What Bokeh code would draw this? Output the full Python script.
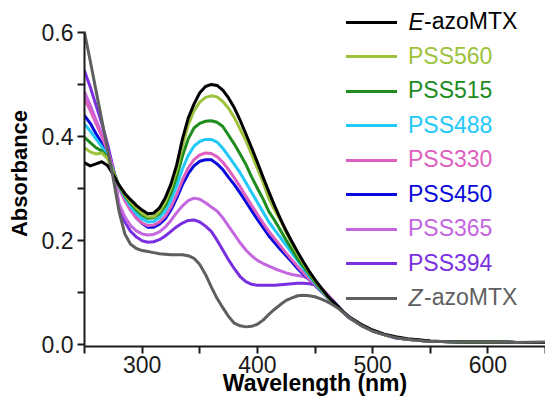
from bokeh.plotting import figure
from bokeh.models import FixedTicker, Legend, LegendItem, Label, PrintfTickFormatter
from bokeh.embed import file_html
from bokeh.resources import INLINE

# ---------------- data ----------------
wavelength = [250, 255, 260, 265, 270, 275, 280, 285, 290, 295, 300, 305, 310, 315, 320,
              325, 330, 335, 340, 345, 350, 355, 360, 365, 370, 375, 380, 385, 390, 395,
              400, 405, 410, 415, 420, 425, 430, 435, 440, 445, 450, 455, 460, 465, 470,
              475, 480, 490, 500, 510, 520, 530, 540, 550, 560, 580, 600, 625, 650]

e_azomtx = [0.349, 0.343, 0.347, 0.351, 0.344, 0.326, 0.306, 0.290, 0.278, 0.267, 0.258, 0.251, 0.252, 0.262, 0.281,
            0.308, 0.345, 0.395, 0.435, 0.462, 0.484, 0.496, 0.500, 0.498, 0.489, 0.474, 0.455, 0.431, 0.405, 0.378,
            0.350, 0.321, 0.293, 0.266, 0.241, 0.218, 0.197, 0.177, 0.158, 0.140, 0.124, 0.109, 0.095, 0.083, 0.072,
            0.061, 0.052, 0.038, 0.027, 0.019, 0.014, 0.010, 0.008, 0.006, 0.005, 0.004, 0.004, 0.003, 0.003]

pss560 = [0.378, 0.370, 0.366, 0.368, 0.357, 0.330, 0.305, 0.288, 0.274, 0.262, 0.252, 0.245, 0.245, 0.255, 0.273,
          0.300, 0.335, 0.381, 0.422, 0.449, 0.466, 0.475, 0.478, 0.476, 0.467, 0.454, 0.436, 0.414, 0.392, 0.365,
          0.338, 0.311, 0.280, 0.258, 0.238, 0.214, 0.193, 0.173, 0.155, 0.138, 0.122, 0.108, 0.094, 0.082, 0.071,
          0.060, 0.051, 0.036, 0.026, 0.018, 0.013, 0.009, 0.007, 0.005, 0.005, 0.004, 0.004, 0.003, 0.003]

pss515 = [0.398, 0.388, 0.378, 0.372, 0.360, 0.332, 0.304, 0.286, 0.271, 0.258, 0.248, 0.242, 0.243, 0.251, 0.266,
          0.290, 0.322, 0.362, 0.395, 0.416, 0.425, 0.429, 0.430, 0.427, 0.419, 0.402, 0.385, 0.366, 0.346, 0.322,
          0.300, 0.279, 0.255, 0.238, 0.219, 0.200, 0.182, 0.164, 0.149, 0.134, 0.119, 0.106, 0.093, 0.082, 0.071,
          0.060, 0.051, 0.036, 0.026, 0.018, 0.013, 0.009, 0.007, 0.005, 0.005, 0.004, 0.004, 0.003, 0.003]

pss488 = [0.424, 0.410, 0.395, 0.380, 0.362, 0.333, 0.303, 0.283, 0.265, 0.251, 0.241, 0.235, 0.236, 0.243, 0.256,
          0.277, 0.305, 0.337, 0.363, 0.381, 0.390, 0.394, 0.394, 0.389, 0.377, 0.362, 0.346, 0.330, 0.311, 0.292,
          0.273, 0.254, 0.235, 0.220, 0.205, 0.190, 0.175, 0.160, 0.145, 0.131, 0.117, 0.104, 0.092, 0.081, 0.071,
          0.060, 0.051, 0.036, 0.026, 0.018, 0.013, 0.009, 0.007, 0.005, 0.005, 0.004, 0.004, 0.003, 0.003]

pss330 = [0.472, 0.450, 0.425, 0.400, 0.372, 0.336, 0.300, 0.276, 0.257, 0.243, 0.233, 0.228, 0.229, 0.235, 0.246,
          0.264, 0.288, 0.316, 0.339, 0.355, 0.364, 0.368, 0.367, 0.361, 0.350, 0.336, 0.320, 0.303, 0.285, 0.267,
          0.250, 0.233, 0.217, 0.203, 0.189, 0.175, 0.162, 0.149, 0.137, 0.125, 0.114, 0.103, 0.091, 0.081, 0.071,
          0.060, 0.050, 0.036, 0.025, 0.018, 0.012, 0.009, 0.007, 0.005, 0.005, 0.004, 0.004, 0.003, 0.003]

pss450 = [0.440, 0.425, 0.405, 0.387, 0.366, 0.335, 0.302, 0.279, 0.259, 0.243, 0.232, 0.225, 0.225, 0.231, 0.241,
          0.258, 0.281, 0.307, 0.328, 0.343, 0.352, 0.355, 0.355, 0.347, 0.336, 0.321, 0.307, 0.291, 0.274, 0.257,
          0.240, 0.224, 0.208, 0.195, 0.182, 0.170, 0.158, 0.145, 0.134, 0.124, 0.113, 0.102, 0.091, 0.080, 0.071,
          0.060, 0.050, 0.036, 0.025, 0.018, 0.012, 0.009, 0.007, 0.005, 0.005, 0.004, 0.004, 0.003, 0.003]

pss365 = [0.485, 0.460, 0.432, 0.405, 0.372, 0.335, 0.270, 0.245, 0.228, 0.218, 0.212, 0.210, 0.211, 0.216, 0.225,
          0.238, 0.253, 0.266, 0.276, 0.281, 0.279, 0.272, 0.264, 0.256, 0.243, 0.227, 0.211, 0.195, 0.181, 0.170,
          0.161, 0.155, 0.150, 0.145, 0.141, 0.137, 0.134, 0.132, 0.130, 0.126, 0.120, 0.110, 0.097, 0.084, 0.072,
          0.060, 0.050, 0.036, 0.025, 0.018, 0.012, 0.009, 0.007, 0.005, 0.005, 0.004, 0.004, 0.003, 0.003]

pss394 = [0.526, 0.495, 0.460, 0.425, 0.385, 0.338, 0.262, 0.235, 0.217, 0.206, 0.199, 0.196, 0.197, 0.201, 0.208,
          0.217, 0.226, 0.233, 0.238, 0.239, 0.235, 0.227, 0.217, 0.200, 0.181, 0.162, 0.145, 0.130, 0.120, 0.115,
          0.113, 0.113, 0.113, 0.113, 0.114, 0.115, 0.116, 0.117, 0.117, 0.116, 0.114, 0.107, 0.097, 0.085, 0.073,
          0.061, 0.050, 0.036, 0.025, 0.018, 0.012, 0.009, 0.007, 0.005, 0.005, 0.004, 0.004, 0.003, 0.003]

z_azomtx = [0.600, 0.545, 0.488, 0.432, 0.375, 0.318, 0.255, 0.212, 0.192, 0.184, 0.180, 0.178, 0.176, 0.174, 0.173,
            0.172, 0.172, 0.172, 0.170, 0.165, 0.153, 0.134, 0.110, 0.088, 0.070, 0.053, 0.040, 0.035, 0.033, 0.034,
            0.038, 0.046, 0.057, 0.067, 0.076, 0.084, 0.089, 0.093, 0.094, 0.093, 0.091, 0.087, 0.082, 0.076, 0.069,
            0.060, 0.051, 0.036, 0.025, 0.018, 0.012, 0.009, 0.007, 0.005, 0.005, 0.004, 0.004, 0.003, 0.004]

series_names = ["E-azoMTX", "PSS560", "PSS515", "PSS488", "PSS330", "PSS450", "PSS365", "PSS394", "Z-azoMTX"]
series_values = [e_azomtx, pss560, pss515, pss488, pss330, pss450, pss365, pss394, z_azomtx]
series_colors = ["#000000", "#9DC23B", "#1E8C1E", "#22C8F8", "#DE5FC0", "#0A0ADC", "#C466E0", "#7A2FE0", "#5F5F5F"]

x_major = [300, 400, 500, 600]
x_minor = [250, 350, 450, 550, 650]
y_major = [0.0, 0.2, 0.4, 0.6]
y_minor = [0.1, 0.3, 0.5]
y_axis_top = 0.6

FONT = "Liberation Sans"

# ---------------- figure ----------------
W, H = 545, 401
LEFT, TOP, BOTTOM = 84, 0, 55
p = figure(width=W, height=H, x_range=(250, 650), y_range=(-0.0048, 0.6616),
           output_backend="svg", toolbar_location=None,
           min_border_left=LEFT, min_border_right=0, min_border_top=TOP, min_border_bottom=BOTTOM)
p.outline_line_color = None
p.xgrid.visible = False
p.ygrid.visible = False
p.background_fill_color = "white"
p.border_fill_color = "white"

renderers = {}
draw_order = [7, 6, 5, 4, 3, 2, 1, 0, 8]
for i in draw_order:
    r = p.line(wavelength, series_values[i], line_color=series_colors[i], line_width=3,
               line_join="round", line_cap="round")
    renderers[i] = r

# axes
for ax in (p.xaxis[0], p.yaxis[0]):
    ax.axis_line_width = 2
    ax.axis_line_color = "#1a1a1a"
    ax.major_tick_line_width = 2
    ax.minor_tick_line_width = 2
    ax.major_tick_line_color = "#1a1a1a"
    ax.minor_tick_line_color = "#1a1a1a"
    ax.major_tick_in = 0
    ax.minor_tick_in = 0
    ax.major_tick_out = 7
    ax.minor_tick_out = 7
    ax.major_label_text_font = FONT
    ax.major_label_text_font_size = "23px"
    ax.major_label_text_color = "#1a1a1a"
    ax.axis_label_text_font = FONT
    ax.axis_label_text_font_style = "bold"
    ax.axis_label_text_color = "#000000"

p.xaxis.ticker = FixedTicker(ticks=x_major, minor_ticks=x_minor)
p.yaxis.ticker = FixedTicker(ticks=y_major, minor_ticks=y_minor)
p.yaxis.bounds = (-0.0048, y_axis_top)
p.yaxis.formatter = PrintfTickFormatter(format="%.1f")
p.xaxis.axis_label = "Wavelength (nm)"
p.yaxis.axis_label = "Absorbance"
p.xaxis.axis_label_text_font_size = "23px"
p.yaxis.axis_label_text_font_size = "22px"
p.xaxis.major_label_standoff = 2
p.yaxis.major_label_standoff = 4
p.xaxis.axis_label_standoff = -6
p.yaxis.axis_label_standoff = 7

# legend: one entry per series so that each text can take its line's colour
row_h = 28
for k in range(len(series_names)):
    name = series_names[k]
    cy = 21.5 + 34.5 * k               # canvas y of the row centre
    fy = (H - BOTTOM) - cy             # frame y (upwards)
    italic = name[0] in ("E", "Z") and name[1] == "-"
    label_text = name[1:] if italic else name
    leg = Legend(items=[LegendItem(label=label_text, renderers=[renderers[k]])],
                 location=(346 - LEFT, fy - row_h / 2),
                 orientation="vertical", padding=0, margin=0, spacing=0,
                 glyph_width=51, glyph_height=row_h, label_height=row_h,
                 label_standoff=27 if italic else 11,
                 label_text_font=FONT, label_text_font_size="23px",
                 label_text_color=series_colors[k],
                 border_line_alpha=0, background_fill_alpha=0)
    p.add_layout(leg)
    if italic:
        p.add_layout(Label(x=408 - LEFT, y=fy, x_units="screen", y_units="screen",
                           text=name[0], text_font=FONT, text_font_size="23px",
                           text_font_style="italic", text_color=series_colors[k],
                           text_baseline="middle", text_align="left"))

open("out.html", "w").write(file_html(p, INLINE))
